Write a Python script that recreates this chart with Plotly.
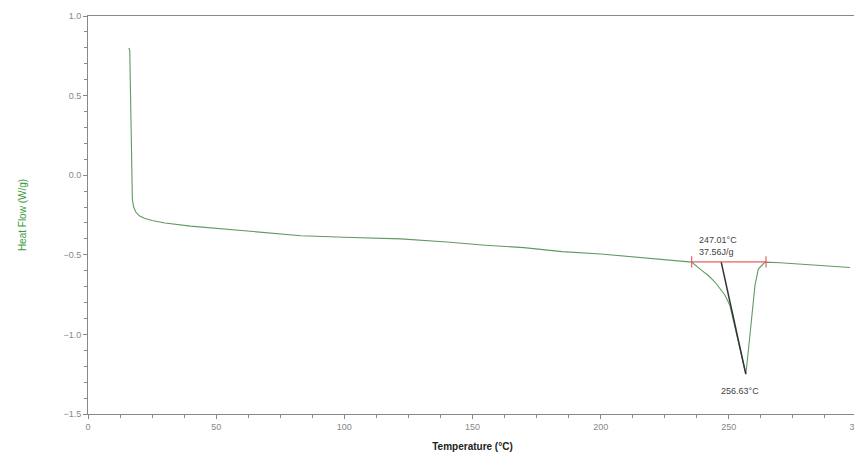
import plotly.graph_objects as go

# DSC curve (temperature in °C, heat flow in W/g)
temperature = [16.0, 16.3, 16.6, 16.8, 17.0, 17.3, 17.8, 18.6, 20.0, 22.0, 25.0, 30.0, 40.0, 50.0,
               65.0, 83.0, 100.0, 122.0, 140.0, 155.0, 170.0, 185.0, 200.0, 216.0, 231.0,
               235.5, 239.4, 242.0, 244.6, 248.5, 250.4, 253.0, 255.0, 256.63, 257.5, 258.3,
               260.2, 261.5, 264.1, 270.0, 280.0, 290.0, 297.3]
heat_flow = [0.80, 0.78, 0.50, 0.20, -0.05, -0.15, -0.20, -0.23, -0.255, -0.27, -0.285, -0.30,
             -0.32, -0.335, -0.355, -0.38, -0.39, -0.40, -0.42, -0.44, -0.455, -0.48, -0.495,
             -0.52, -0.54, -0.546, -0.598, -0.63, -0.671, -0.754, -0.817, -0.99, -1.13, -1.25,
             -1.12, -0.983, -0.692, -0.59, -0.546, -0.55, -0.56, -0.57, -0.58]

# integration baseline and onset tangent
baseline_t = [235.5, 264.5]
baseline_v = [-0.545, -0.545]
tangent_t = [247.01, 256.63]
tangent_v = [-0.545, -1.25]

onset_label = "247.01°C<br>37.56J/g"
peak_label = "256.63°C"

fig = go.Figure()
fig.add_trace(go.Scatter(x=temperature, y=heat_flow, mode="lines",
                         line=dict(color="#619a61", width=1.1), showlegend=False))
fig.add_trace(go.Scatter(x=tangent_t, y=tangent_v, mode="lines",
                         line=dict(color="#333333", width=1.5), showlegend=False))
fig.add_trace(go.Scatter(x=baseline_t, y=baseline_v, mode="lines+markers",
                         line=dict(color="#e86060", width=1.2),
                         marker=dict(symbol="line-ns-open", size=8,
                                     line=dict(color="#e86060", width=1.2)),
                         showlegend=False))

fig.add_annotation(x=237.5, y=-0.545, text=onset_label, showarrow=False,
                   xanchor="left", yanchor="bottom", yshift=3, align="left",
                   font=dict(size=9, color="#444444", family="Liberation Sans"))
fig.add_annotation(x=254.3, y=-1.25, text=peak_label, showarrow=False,
                   xanchor="center", yanchor="top", yshift=-10,
                   font=dict(size=9, color="#444444", family="Liberation Sans"))

axis_common = dict(showline=True, linecolor="#888888", linewidth=1, mirror=True,
                   showgrid=False, zeroline=False, ticks="outside", ticklen=4,
                   tickcolor="#888888", ticklabeloverflow="allow",
                   tickfont=dict(size=9, color="#888888", family="Liberation Sans"))

fig.update_xaxes(range=[0, 300], tick0=0, dtick=50,
                 minor=dict(dtick=12.5, ticks="outside", ticklen=3, tickcolor="#888888"),
                 title=dict(text="<b>Temperature (°C)</b>", standoff=12,
                            font=dict(size=10, color="#222222", family="Liberation Sans")),
                 **axis_common)
fig.update_yaxes(range=[-1.5, 1.0], tick0=0, dtick=0.5, tickformat=".1f",
                 minor=dict(dtick=0.1, ticks="outside", ticklen=3, tickcolor="#888888"),
                 title=dict(text="Heat Flow (W/g)", standoff=34,
                            font=dict(size=10, color="#3a9a3a", family="Liberation Sans")),
                 **axis_common)

fig.update_layout(width=854, height=447, plot_bgcolor="white", paper_bgcolor="white",
                  margin=dict(l=80, r=5, t=8, b=41, autoexpand=False))

fig.write_html("out.html")
